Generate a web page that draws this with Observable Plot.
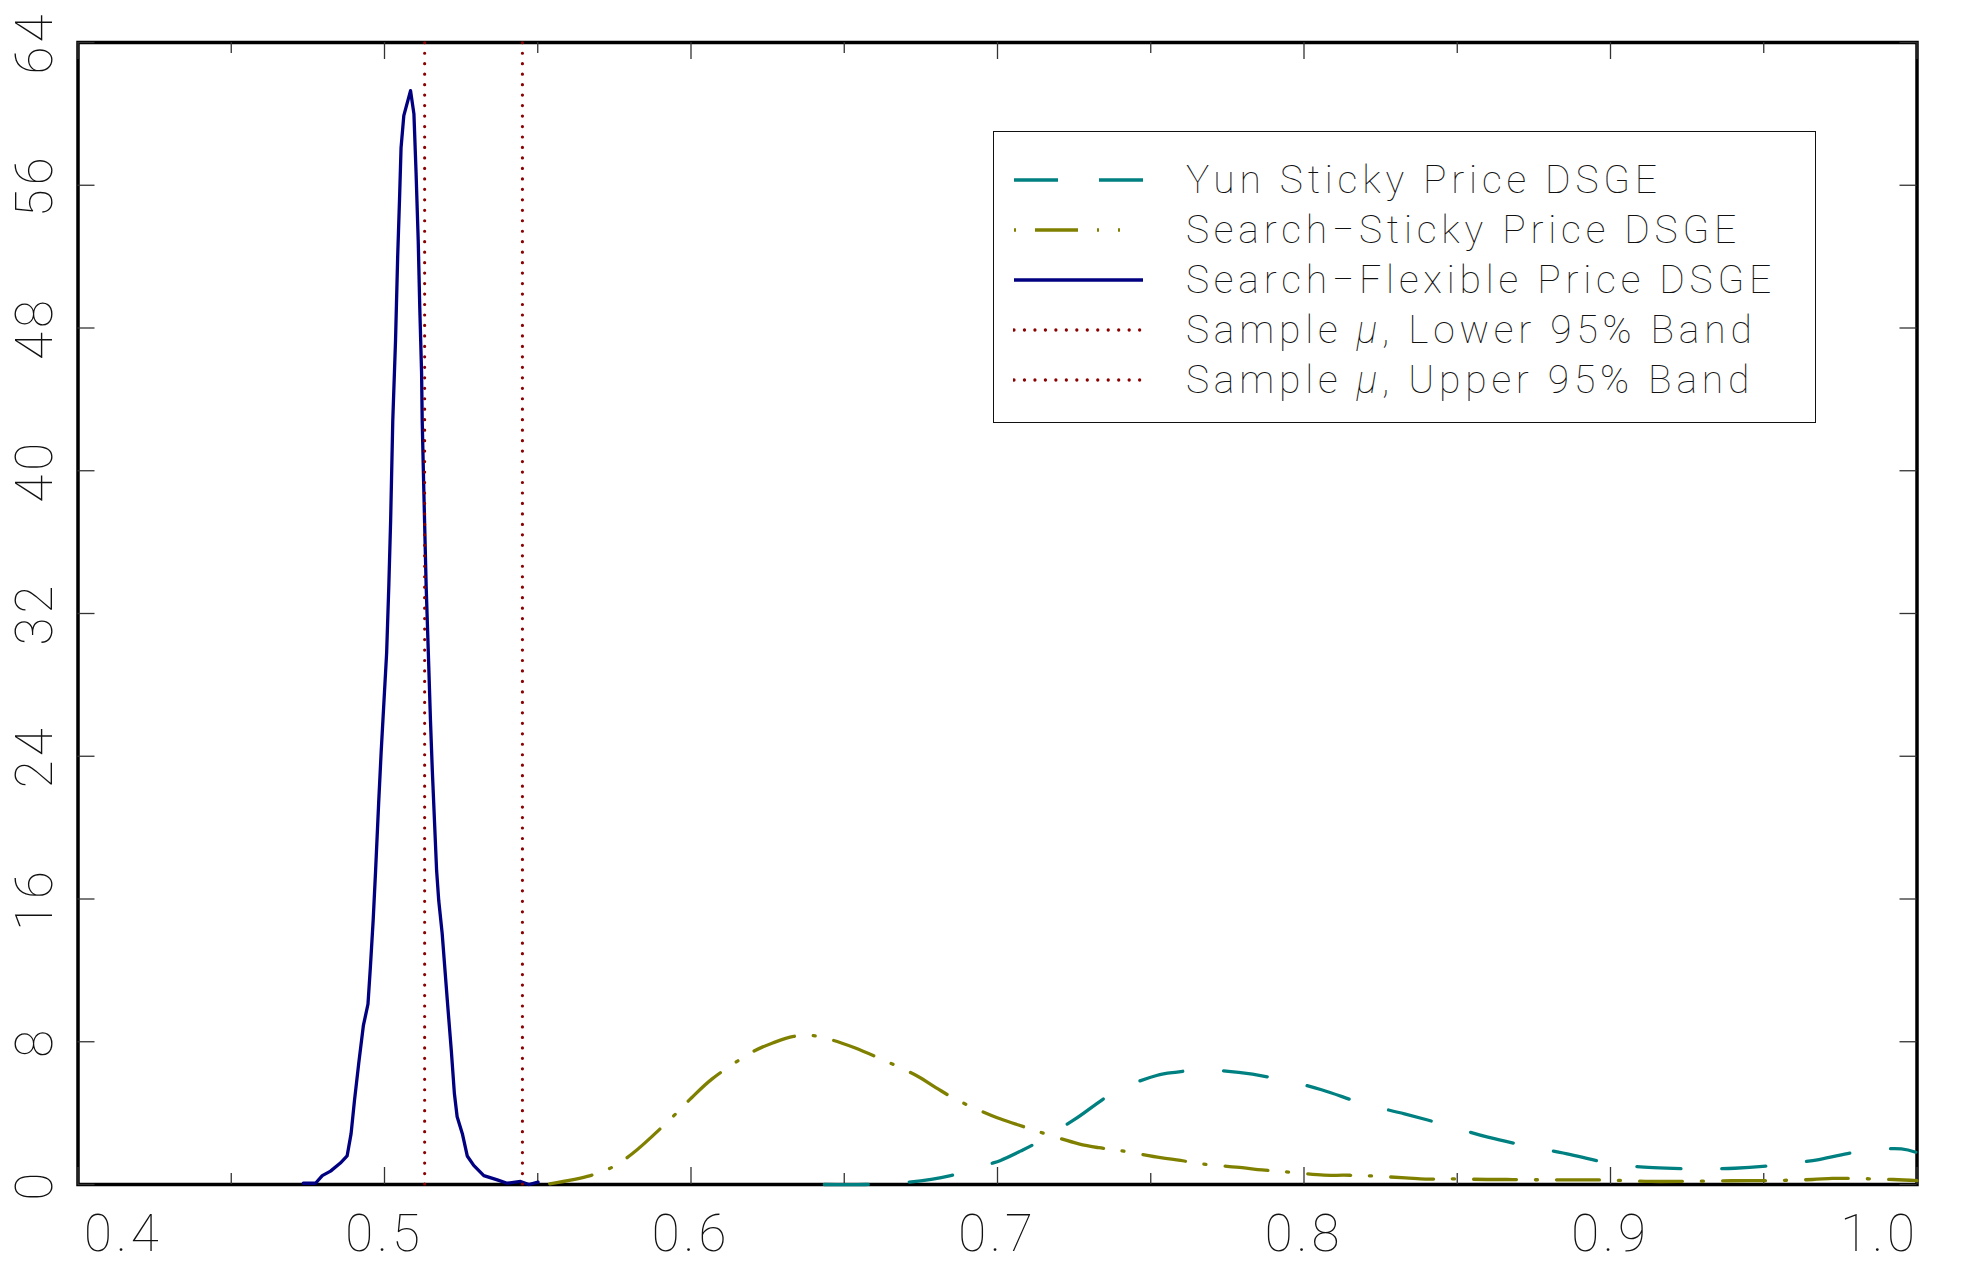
<!DOCTYPE html>
<html>
<head>
<meta charset="utf-8">
<script src="https://cdn.jsdelivr.net/npm/d3@7"></script>
<script src="https://cdn.jsdelivr.net/npm/@observablehq/plot@0.6"></script>
<style>
  html, body { margin: 0; padding: 0; background: #fff; }
  #wrap { position: relative; width: 1979px; height: 1264px; overflow: hidden; }
  #legend { position: absolute; left: 993px; top: 131px; width: 823px; height: 292px;
    box-sizing: border-box; border: 1.5px solid #111; background: #fff;
    font-family: Roboto, "DejaVu Sans", sans-serif; font-weight: 100; font-size: 39px;
    letter-spacing: 4.8px; color: #111; }
  .row { position: absolute; left: 0; height: 50px; width: 100%; }
  .row svg { position: absolute; left: 19px; top: 20px; }
  .row span { position: absolute; left: 192px; top: 0; line-height: 50px; white-space: nowrap; }
</style>
</head>
<body>
<div id="wrap"></div>
<script>
// ---------- data ----------
const yunX = [0.6435, 0.6570, 0.6711, 0.6847, 0.6977, 0.7010, 0.7075, 0.7115, 0.7249, 0.7385,
  0.7519, 0.7586, 0.7657, 0.7787, 0.7929, 0.8057, 0.8195, 0.8328, 0.8467, 0.8600,
  0.8737, 0.8870, 0.9006, 0.9139, 0.9277, 0.9405, 0.9547, 0.9680, 0.9818, 0.9949, 0.9996];
const yunY = [0.0, 0.0, 0.13, 0.5, 1.16, 1.35, 1.87, 2.22, 3.62, 5.21,
  6.11, 6.30, 6.43, 6.28, 5.87, 5.31, 4.52, 3.96, 3.31, 2.65,
  2.13, 1.68, 1.16, 0.94, 0.88, 0.91, 1.10, 1.40, 1.87, 2.00, 1.81];

const stickyX = [0.5539, 0.5672, 0.5743, 0.5808, 0.5939, 0.6002, 0.6069, 0.6205, 0.6268, 0.6335,
  0.6395, 0.6466, 0.6534, 0.6599, 0.6735, 0.6800, 0.6863, 0.6999, 0.7066, 0.7129,
  0.7265, 0.7331, 0.7396, 0.7532, 0.7597, 0.7662, 0.7798, 0.7863, 0.7929, 0.8065,
  0.8130, 0.8196, 0.8331, 0.8396, 0.8461, 0.8598, 0.8661, 0.8722, 0.8863, 0.8990,
  0.9131, 0.9255, 0.9395, 0.9519, 0.9659, 0.9724, 0.9786, 0.9923, 1.0];
const stickyY = [0.04, 0.5, 0.97, 1.72, 3.77, 4.86, 5.92, 7.47, 7.94, 8.30,
  8.35, 8.07, 7.66, 7.19, 6.11, 5.42, 4.78, 3.74, 3.35, 2.99,
  2.28, 2.06, 1.91, 1.50, 1.35, 1.16, 0.94, 0.82, 0.73, 0.52,
  0.52, 0.50, 0.37, 0.30, 0.32, 0.28, 0.28, 0.27, 0.26, 0.25,
  0.17, 0.18, 0.21, 0.22, 0.28, 0.34, 0.34, 0.28, 0.22];

const flexX = [0.4735, 0.4775, 0.4797, 0.4824, 0.4856, 0.4878, 0.4891, 0.4902, 0.4916, 0.4931,
  0.4946, 0.4954, 0.4963, 0.4971, 0.4981, 0.4989, 0.4998, 0.5007, 0.5014, 0.5020,
  0.5027, 0.5036, 0.5043, 0.5049, 0.5054, 0.5063, 0.5085, 0.5096, 0.5103, 0.5110,
  0.5115, 0.5121, 0.5123, 0.5128, 0.5136, 0.5143, 0.5150, 0.5156, 0.5163, 0.5170,
  0.5177, 0.5188, 0.5205, 0.5218, 0.5228, 0.5237, 0.5254, 0.5270, 0.5291, 0.5324,
  0.5368, 0.5400, 0.5444, 0.5471, 0.5501];
const flexY = [0.07, 0.07, 0.5, 0.75, 1.2, 1.6, 2.85, 4.7, 6.8, 8.9,
  10.1, 12.2, 14.8, 17.6, 21.4, 24.2, 27.0, 29.8, 33.5, 37.2,
  42.8, 47.3, 52.0, 55.2, 58.1, 59.9, 61.3, 60.0, 56.7, 52.9,
  49.2, 45.5, 42.8, 39.1, 33.5, 29.8, 26.0, 23.2, 20.4, 17.6,
  15.9, 14.1, 10.3, 7.5, 5.1, 3.8, 2.85, 1.6, 1.07, 0.5,
  0.26, 0.07, 0.17, 0.0, 0.13];

const bandValues = [0.5131, 0.5450];

const seriesNames = ["Yun Sticky Price DSGE", "Search\u2212Sticky Price DSGE", "Search\u2212Flexible Price DSGE",
  "Sample <i>\u03bc</i>, Lower 95% Band", "Sample <i>\u03bc</i>, Upper 95% Band"];
const seriesColors = ["#008080", "#808000", "#000080", "#8b0000", "#8b0000"];

const xMajorTicks = [0.4, 0.5, 0.6, 0.7, 0.8, 0.9, 1.0];
const xMinorTicks = [0.45, 0.55, 0.65, 0.75, 0.85, 0.95];
const xInnerLabels = [0.5, 0.6, 0.7, 0.8, 0.9];
const xFirstLabel = [0.4];
const xLastLabel = [1.0];
const yTicks = [0, 8, 16, 24, 32, 40, 48, 56, 64];

// ---------- layout ----------
const W = 1979, H = 1264;
const mL = 77.5, mR = 62.5, mT = 42, mB = 80;
const plotW = W - mL - mR, plotH = H - mT - mB;
const majorLen = 17, minorLen = 11;
const FONT = 'Roboto, "DejaVu Sans", sans-serif';
const dashes = ["44 41", "43 19 2 19", null, "0 10.47", "0 10.47"];
const lineW = 3.3;

const toRows = (xs, ys) => xs.map((x, i) => ({x, y: ys[i]}));

const textCommon = {fontFamily: FONT, fontWeight: 100, fontSize: 51, fill: "#111", lineAnchor: "middle"};

const chart = Plot.plot({
  width: W, height: H,
  marginLeft: mL, marginRight: mR, marginTop: mT, marginBottom: mB,
  x: {domain: [0.4, 1.0], axis: null},
  y: {domain: [0, 64], axis: null},
  style: {background: "#fff", letterSpacing: "4px"},
  marks: [
    Plot.frame({stroke: "#000", strokeWidth: 3.5}),
    // ticks (inward, all four sides)
    Plot.ruleX(xMajorTicks, {x: d => d, insetTop: plotH - majorLen, stroke: "#333", strokeWidth: 1.3}),
    Plot.ruleX(xMajorTicks, {x: d => d, insetBottom: plotH - majorLen, stroke: "#333", strokeWidth: 1.3}),
    Plot.ruleX(xMinorTicks, {x: d => d, insetTop: plotH - minorLen, stroke: "#333", strokeWidth: 1.3}),
    Plot.ruleX(xMinorTicks, {x: d => d, insetBottom: plotH - minorLen, stroke: "#333", strokeWidth: 1.3}),
    Plot.ruleY(yTicks, {y: d => d, insetRight: plotW - majorLen, stroke: "#333", strokeWidth: 1.3}),
    Plot.ruleY(yTicks, {y: d => d, insetLeft: plotW - majorLen, stroke: "#333", strokeWidth: 1.3}),
    Plot.line(toRows(yunX, yunY), {x: "x", y: "y", stroke: seriesColors[0], strokeWidth: lineW,
      strokeDasharray: dashes[0], curve: "catmull-rom", strokeLinecap: "round"}),
    Plot.line(toRows(stickyX, stickyY), {x: "x", y: "y", stroke: seriesColors[1], strokeWidth: lineW,
      strokeDasharray: dashes[1], curve: "catmull-rom"}),
    Plot.line(toRows(flexX, flexY), {x: "x", y: "y", stroke: seriesColors[2], strokeWidth: lineW,
      curve: "linear", strokeLinejoin: "round"}),
    Plot.ruleX(bandValues, {x: d => d, y1: 0, y2: 64, stroke: seriesColors[3], strokeWidth: 3.2,
      strokeDasharray: dashes[3], strokeLinecap: "round"}),
    // tick labels
    Plot.text(xInnerLabels, {x: d => d, frameAnchor: "bottom", dy: 50, text: d => d.toFixed(1),
      textAnchor: "middle", ...textCommon}),
    Plot.text(xFirstLabel, {x: d => d, frameAnchor: "bottom", dy: 50, dx: 6, text: d => d.toFixed(1),
      textAnchor: "start", ...textCommon}),
    Plot.text(xLastLabel, {x: d => d, frameAnchor: "bottom", dy: 50, dx: 2, text: d => d.toFixed(1),
      textAnchor: "end", ...textCommon}),
    Plot.text(yTicks, {y: d => d, frameAnchor: "left", dx: -42.5, rotate: -90, text: d => String(d),
      textAnchor: "middle", ...textCommon})
  ]
});

const wrap = document.getElementById("wrap");
wrap.appendChild(chart);

// ---------- legend ----------
const legend = document.createElement("div");
legend.id = "legend";
seriesNames.forEach((name, i) => {
  const row = document.createElement("div");
  row.className = "row";
  row.style.top = (23 + i * 50) + "px";
  const sw = i === 1 ? 106 : 129;
  const dash = dashes[i] ? ` stroke-dasharray="${i === 1 ? "2 19 43 19" : dashes[i]}"` : "";
  const cap = (i >= 3) ? ' stroke-linecap="round"' : '';
  row.innerHTML = `<svg width="140" height="10"><line x1="1" y1="5" x2="${1 + sw}" y2="5" stroke="${seriesColors[i]}" stroke-width="${lineW}"${dash}${cap}/></svg><span>${name}</span>`;
  legend.appendChild(row);
});
wrap.appendChild(legend);
</script>
</body>
</html>
